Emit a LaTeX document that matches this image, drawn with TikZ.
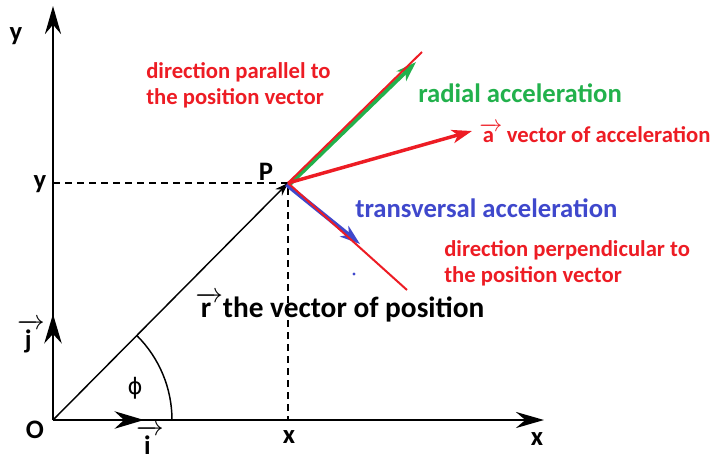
\documentclass[tikz,border=0pt]{standalone}
\usepackage{amsmath}
\usepackage{fontspec}
\setmainfont{Carlito}
\newfontfamily\symfont{DejaVu Sans}
\usetikzlibrary{arrows.meta, positioning}
\definecolor{paintred}{RGB}{237,28,36}
\definecolor{paintgreen}{RGB}{34,177,76}
\definecolor{paintblue}{RGB}{63,72,204}
\tikzstyle{axisline}  = [line width=2.2pt, -{Stealth[length=21pt, width=12pt, inset=7pt]}]
\tikzstyle{unitvec}   = [line width=2.2pt, -{Stealth[length=22pt, width=13pt, inset=7pt]}]
\tikzstyle{posvec}    = [line width=1.1pt, -{Stealth[length=10pt, width=7pt]}]
\tikzstyle{guide}     = [line width=1.4pt, dash pattern=on 5pt off 4pt]
\tikzstyle{dirline}   = [line width=1.5pt, paintred]
\tikzstyle{accarrow}  = [line width=2.6pt, -{Stealth[length=15pt, width=10pt, inset=4pt]}]
\tikzstyle{axislbl}   = [font=\bfseries\fontsize{20}{22}\selectfont, inner sep=0pt]
\tikzstyle{redlbl}    = [font=\bfseries\fontsize{17}{19.5}\selectfont, text=paintred, inner sep=0pt, anchor=west, align=left]
\tikzstyle{biglbl}    = [font=\bfseries\fontsize{20}{22}\selectfont, inner sep=0pt, anchor=west]
\newcommand{\vecletter}[1]{$\overrightarrow{\text{#1}\hspace{0.2em}}$}

\begin{document}
\begin{tikzpicture}[x=0.75pt, y=-0.75pt]
    \useasboundingbox (0,0) rectangle (717,464);

    \coordinate (O)       at (53, 420);
    \coordinate (ytip)    at (53, 6);
    \coordinate (xtip)    at (544, 420);
    \coordinate (jtip)    at (53, 314);
    \coordinate (itip)    at (144, 420);
    \coordinate (P)       at (288, 183);
    \coordinate (ypt)     at (53, 183);
    \coordinate (xpt)     at (288, 420);
    \coordinate (parend)  at (422, 52);
    \coordinate (perpend) at (407, 290);
    \coordinate (radtip)  at (416, 62);
    \coordinate (acctip)  at (472, 131);
    \coordinate (trantip) at (360, 244);

    % axes and unit vectors
    \draw [axisline] (O) -- (ytip);
    \draw [axisline] (O) -- (xtip);
    \draw [unitvec]  (O) -- (jtip);
    \draw [unitvec]  (O) -- (itip);

    % position of P
    \draw [guide] (ypt) -- (P) -- (xpt);
    \draw [posvec] (O) -- (P);
    \draw [line width=1.1pt] (O) ++(119,0) arc[start angle=0, end angle=-45.2, radius=119];

    % directions and accelerations
    \draw [accarrow, paintgreen, line width=3pt] ([shift={(1.5,1.5)}]P) -- (radtip);
    \draw [dirline] (P) -- (parend);
    \draw [accarrow, paintblue, line width=3.2pt] ([shift={(-1.5,1.5)}]P) -- (trantip);
    \draw [dirline] (P) -- (perpend);
    \draw [accarrow, paintred] (P) -- (acctip);
    \fill [paintblue] (354, 274) circle (1.6);

    % labels
    \node [axislbl] (ylbl)  at (16, 36)   {y};
    \node [axislbl] (xlbl)  at (537, 439) {x};
    \node [axislbl] (olbl)  at (35, 430)  {O};
    \node [axislbl] (ymark) at (40, 184)  {y};
    \node [axislbl] (xmark) at (289, 437) {x};
    \node [axislbl] (plbl)  at (266, 172) {P};
    \node [axislbl] (jlbl)  at (31, 336)  {\vecletter{j}};
    \node [axislbl] (ilbl)  at (150, 440) {\vecletter{i}};
    \node [inner sep=0pt, font=\symfont\fontsize{17}{20}\selectfont] (philbl) at (135, 388) {ϕ};

    \node [redlbl] (partext)  at (146, 85)  {direction parallel to\\the position vector};
    \node [redlbl] (perptext) at (444, 263) {direction perpendicular to\\the position vector};
    \node [redlbl] (acctext)  at (479, 133) {\vecletter{a}\hspace{0.2em}vector of acceleration};
    \node [biglbl, text=paintgreen] (radtext)  at (418, 93)  {radial acceleration};
    \node [biglbl, text=paintblue]  (trantext) at (355, 208) {transversal acceleration};
    \node [biglbl, font=\bfseries\fontsize{22}{24}\selectfont] (postext) at (195, 307) {\vecletter{r}the vector of position};
\end{tikzpicture}
\end{document}
